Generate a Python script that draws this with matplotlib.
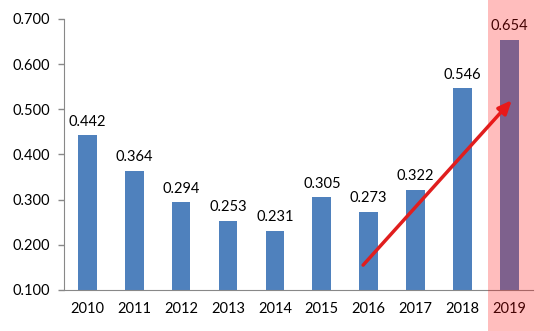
import matplotlib.pyplot as plt
from matplotlib.patches import Rectangle
import numpy as np

years = ["2010", "2011", "2012", "2013", "2014", "2015", "2016", "2017", "2018", "2019"]
values = [0.442, 0.364, 0.294, 0.253, 0.231, 0.305, 0.273, 0.322, 0.546, 0.654]
yticks = [0.1, 0.2, 0.3, 0.4, 0.5, 0.6, 0.7]

# trend arrow end points (category index, value)
arrow_start = (5.88, 0.155)
arrow_end = (9.05, 0.52)

plt.rcParams["font.family"] = ["Lato", "DejaVu Sans"]

fig = plt.figure(figsize=(5.5, 3.31), dpi=100)
ax = fig.add_axes([0.116, 0.124, 0.853, 0.819])

x = np.arange(len(years))
ax.bar(x, [v - 0.1 for v in values], bottom=0.1, width=0.4, color="#4F81BD", zorder=2)

for xi, v in zip(x, values):
    ax.text(xi, v + 0.015, f"{v:.3f}", ha="center", va="bottom", fontsize=10.5, color="black")

ax.set_xlim(-0.5, len(years) - 0.5)
ax.set_ylim(0.1, 0.7)
ax.set_yticks(yticks)
ax.set_yticklabels([f"{t:.3f}" for t in yticks])
ax.set_xticks(x)
ax.set_xticklabels(years)

ax.tick_params(axis="x", length=0, pad=9, labelsize=10.5)
ax.tick_params(axis="y", length=4, width=1, color="#888888", pad=6, labelsize=10.5)

for side in ["top", "right"]:
    ax.spines[side].set_visible(False)
ax.spines["left"].set_color("#888888")
ax.spines["bottom"].set_color("#888888")

ax.annotate("", xy=arrow_end, xytext=arrow_start,
            arrowprops=dict(arrowstyle="-|>,head_length=0.8,head_width=0.35",
                            color="#E01E1E", lw=2.5, shrinkA=0, shrinkB=0),
            zorder=5)

# highlight band over the last year
fig.patches.append(Rectangle((488 / 550, 0), 1 - 488 / 550, 1, transform=fig.transFigure,
                             facecolor=(1.0, 0.05, 0.05), alpha=0.27, edgecolor="none",
                             zorder=10))

fig.savefig("out.png", dpi=100)
